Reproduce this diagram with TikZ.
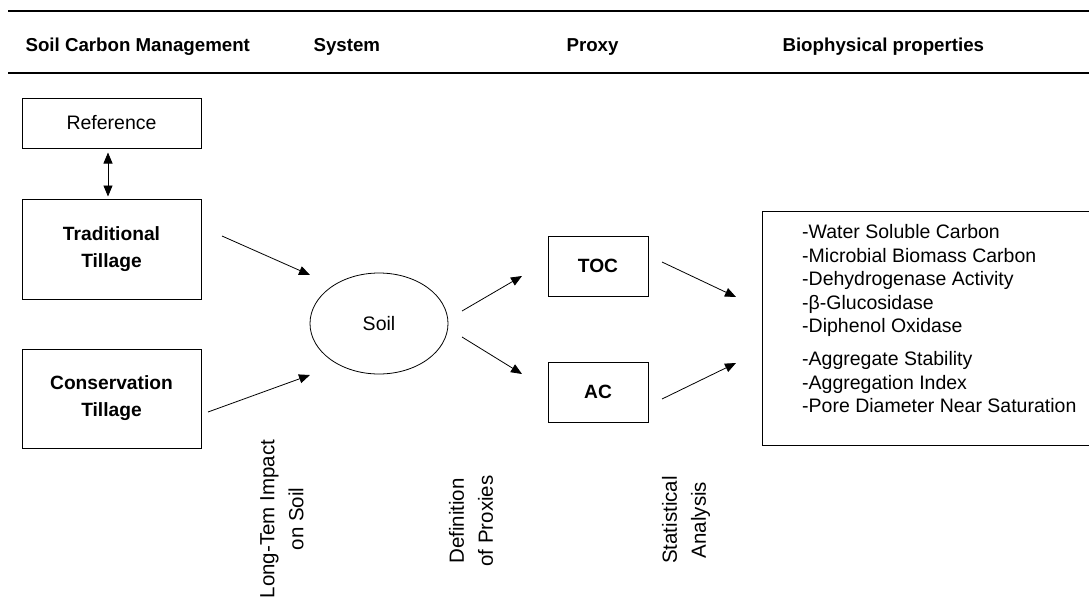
\documentclass[tikz,border=0pt]{standalone}
\usepackage{fontspec}
\setmainfont{Liberation Sans}
\usetikzlibrary{shapes.geometric,arrows.meta}

\tikzset{
  box/.style={draw, line width=1pt, align=center, inner sep=0pt},
  hdr/.style={anchor=base west, font=\fontsize{18.7}{22}\bfseries\selectfont},
  bold/.style={font=\fontsize{19.2}{27}\bfseries\selectfont},
  plain/.style={font=\fontsize{19.5}{23.5}\selectfont},
  vlabel/.style={rotate=90, align=center, font=\fontsize{20.5}{29}\selectfont},
  flow/.style={-{Triangle[length=11pt,width=9pt]}, line width=0.8pt},
}

\begin{document}
\begin{tikzpicture}[x=1pt,y=-1pt]
\useasboundingbox (0,0) rectangle (1089,603);

% header
\draw[line width=1.2pt] (8,11) -- (1089,11);
\draw[line width=1.2pt] (8,73) -- (1089,73);
\node[hdr] (hmgmt) at (22,51) {Soil Carbon Management};
\node[hdr] (hsys) at (310,51) {System};
\node[hdr] (hproxy) at (563,51) {Proxy};
\node[hdr] (hbio) at (779,51) {Biophysical properties};

% management
\node[box, plain, minimum width=179pt, minimum height=50pt] (ref) at (111.5,123) {Reference};
\node[box, bold, minimum width=179pt, minimum height=100pt] (trad) at (111.5,249) {Traditional\\Tillage};
\node[box, bold, minimum width=179pt, minimum height=99pt] (cons) at (111.5,398.5) {Conservation\\Tillage};

% system
\node[draw, ellipse, line width=0.8pt, plain, minimum width=138pt, minimum height=101pt, inner sep=0pt] (soil) at (379,323.5) {Soil};

% proxies
\node[box, bold, minimum width=100pt, minimum height=60pt] (toc) at (598,266) {TOC};
\node[box, bold, minimum width=100pt, minimum height=60pt] (ac) at (598,392) {AC};

% properties
\node[box, anchor=north west, minimum width=340pt, minimum height=234pt] (props) at (762,211) {};
\node[plain, anchor=north west, align=left, inner sep=0pt] (proplist) at (802,224.5) {%
-Water Soluble Carbon\\
-Microbial Biomass Carbon\\
-Dehydrogenase Activity\\
-β-Glucosidase\\
-Diphenol Oxidase\\[9.5pt]
-Aggregate Stability\\
-Aggregation Index\\
-Pore Diameter Near Saturation};

% arrow ends
\coordinate (trad-out) at (222,236);
\coordinate (soil-in-a) at (310,275);
\coordinate (cons-out) at (208,412);
\coordinate (soil-in-b) at (310,375);
\coordinate (soil-out-a) at (462,311);
\coordinate (toc-in) at (522,276);
\coordinate (soil-out-b) at (462,337);
\coordinate (ac-in) at (522,374);
\coordinate (toc-out) at (662,262);
\coordinate (props-in-a) at (736,297);
\coordinate (ac-out) at (662,399);
\coordinate (props-in-b) at (736,363);

\draw[flow, {Triangle[length=11pt,width=9pt]}-{Triangle[length=11pt,width=9pt]}, shorten <=4pt, shorten >=2pt] ([xshift=-3.5pt]ref.south) -- ([xshift=-3.5pt]trad.north);
\draw[flow] (trad-out) -- (soil-in-a);
\draw[flow] (cons-out) -- (soil-in-b);
\draw[flow] (soil-out-a) -- (toc-in);
\draw[flow] (soil-out-b) -- (ac-in);
\draw[flow] (toc-out) -- (props-in-a);
\draw[flow] (ac-out) -- (props-in-b);

% step labels
\node[vlabel] (impact) at (282,519) {Long-Tem Impact\\on Soil};
\node[vlabel] (define) at (471,521) {Definition\\of Proxies};
\node[vlabel] (stats) at (686,520) {Statistical\\Analysis};

\end{tikzpicture}
\end{document}
